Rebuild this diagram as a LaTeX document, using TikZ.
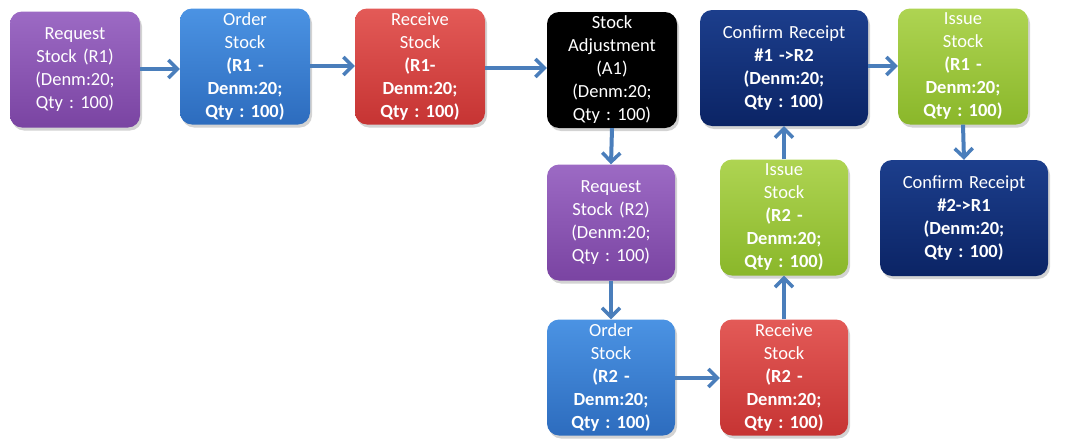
\documentclass[tikz,border=0pt]{standalone}
\usepackage{fontspec}
\setmainfont{Carlito}[WordSpace={0.6,0,0}]
\frenchspacing
\usetikzlibrary{arrows.meta,shadows}
\definecolor{arrowc}{HTML}{4A7EBB}
\definecolor{purT}{HTML}{9C6AC4}\definecolor{purB}{HTML}{7A44A2}
\definecolor{bluT}{HTML}{4B93E3}\definecolor{bluB}{HTML}{2D6CBE}
\definecolor{redT}{HTML}{E35A57}\definecolor{redB}{HTML}{C63433}
\definecolor{navT}{HTML}{1C3E8C}\definecolor{navB}{HTML}{0B2465}
\definecolor{grnT}{HTML}{AED452}\definecolor{grnB}{HTML}{8AB72A}
\tikzset{
  box/.style={rounded corners=12pt, minimum width=130pt, minimum height=116pt,
    text width=128pt, align=center, text=white,
    font=\fontsize{18.5}{23}\selectfont,
    inner sep=0pt, drop shadow={opacity=0.35,shadow xshift=2pt,shadow yshift=-3pt}},
  pur/.style={box, top color=purT, bottom color=purB},
  blu/.style={box, top color=bluT, bottom color=bluB},
  red/.style={box, top color=redT, bottom color=redB},
  blk/.style={box, fill=black},
  nav/.style={box, top color=navT, bottom color=navB},
  grn/.style={box, top color=grnT, bottom color=grnB},
  flow/.style={draw=arrowc, line width=4pt, -{Straight Barb[length=9pt,width=18pt,line width=3.5pt]}}
}
\begin{document}
\begin{tikzpicture}[x=1pt,y=-1pt]
\useasboundingbox (0,0) rectangle (1076,439);
\node[pur] (r1) at (75,69.5) {Request\\Stock (R1)\\(Denm:20;\\Qty : 100)};
\node[blu] (o1) at (245,66.5) {Order\\Stock\\\textbf{(R1 -}\\\textbf{Denm:20;}\\\textbf{Qty : 100)}};
\node[red] (v1) at (420,66.5) {Receive\\Stock\\\textbf{(R1-}\\\textbf{Denm:20;}\\\textbf{Qty : 100)}};
\node[blk] (a1) at (612,70) {Stock\\Adjustment\\(A1)\\(Denm:20;\\Qty : 100)};
\node[nav, minimum width=168pt, text width=160pt] (c1) at (784,68) {Confirm Receipt\\\textbf{\#1 ->R2}\\\textbf{(Denm:20;}\\\textbf{Qty : 100)}};
\node[grn] (i1) at (963,66.5) {Issue\\Stock\\\textbf{(R1 -}\\\textbf{Denm:20;}\\\textbf{Qty : 100)}};
\node[pur, minimum width=128pt] (r2) at (611,222.5) {Request\\Stock (R2)\\(Denm:20;\\Qty : 100)};
\node[grn, minimum width=128pt] (i2) at (784,217.5) {Issue\\Stock\\\textbf{(R2 -}\\\textbf{Denm:20;}\\\textbf{Qty : 100)}};
\node[nav, minimum width=168pt, text width=160pt] (c2) at (964,218) {Confirm Receipt\\\textbf{\#2->R1}\\\textbf{(Denm:20;}\\\textbf{Qty : 100)}};
\node[blu, minimum width=128pt] (o2) at (611,377.5) {Order\\Stock\\\textbf{(R2 -}\\\textbf{Denm:20;}\\\textbf{Qty : 100)}};
\node[red, minimum width=128pt] (v2) at (784,377.5) {Receive\\Stock\\\textbf{(R2 -}\\\textbf{Denm:20;}\\\textbf{Qty : 100)}};
\draw[flow] (r1.east |- 0,69) -- (o1.west |- 0,69);
\draw[flow] (o1.east |- 0,66) -- (v1.west |- 0,66);
\draw[flow] (v1.east |- 0,68) -- (a1.west |- 0,68);
\draw[flow] (a1.south) -- (r2.north);
\draw[flow] (r2.south) -- (o2.north);
\draw[flow] (o2.east |- 0,378) -- (v2.west |- 0,378);
\draw[flow] (v2.north) -- (i2.south);
\draw[flow] (i2.north) -- (c1.south);
\draw[flow] (c1.east |- 0,66) -- (i1.west |- 0,66);
\draw[flow] (i1.south) -- (c2.north);
\end{tikzpicture}
\end{document}
